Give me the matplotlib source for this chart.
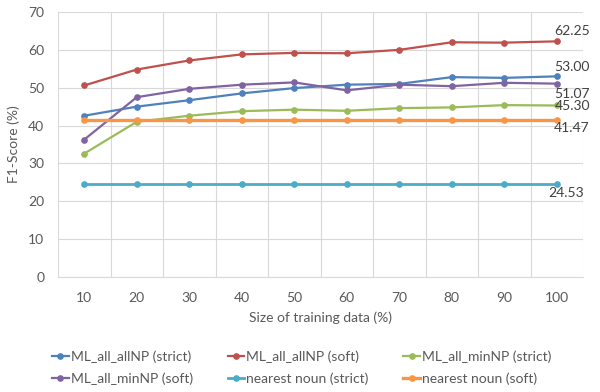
import matplotlib.pyplot as plt
import numpy as np

plt.rcParams['font.family'] = ['Lato', 'DejaVu Sans']

sizes = ['10', '20', '30', '40', '50', '60', '70', '80', '90', '100']
allnp_strict = [42.6, 45.0, 46.7, 48.5, 49.9, 50.8, 51.0, 52.8, 52.6, 53.00]
allnp_soft = [50.6, 54.8, 57.2, 58.8, 59.2, 59.1, 60.0, 62.0, 61.9, 62.25]
minnp_strict = [32.6, 41.0, 42.6, 43.8, 44.2, 43.9, 44.6, 44.8, 45.4, 45.30]
minnp_soft = [36.3, 47.5, 49.7, 50.8, 51.4, 49.3, 50.8, 50.4, 51.3, 51.07]
nearest_strict = [24.53] * 10
nearest_soft = [41.47] * 10

series = [
    ('ML_all_allNP (strict)', allnp_strict, '#4F81BD'),
    ('ML_all_allNP (soft)', allnp_soft, '#C0504D'),
    ('ML_all_minNP (strict)', minnp_strict, '#9BBB59'),
    ('ML_all_minNP (soft)', minnp_soft, '#8064A2'),
    ('nearest noun (strict)', nearest_strict, '#4BACC6'),
    ('nearest noun (soft)', nearest_soft, '#F79646'),
]
widths = [1.6, 1.6, 1.6, 1.6, 2.0, 2.4]

txt = '#595959'
fig = plt.figure(figsize=(6, 3.92), dpi=100)
ax = fig.add_axes([0.0967, 0.2934, 0.875, 0.676])

x = np.arange(len(sizes))
handles = []
for (name, vals, col), w in zip(series, widths):
    h, = ax.plot(x, vals, color=col, lw=w, marker='o', ms=3.8, label=name)
    handles.append(h)

# end-of-line labels, offsets in pixels
lab_off = [(-3, 9), (-3, 10), (-2, -1), (-3, -10), (-8, -9), (-3, -8)]
for (name, vals, col), (dx, dy) in zip(series, lab_off):
    ax.annotate('%.2f' % vals[-1], (x[-1], vals[-1]), xytext=(dx, dy),
                textcoords='offset pixels', ha='left', va='center',
                fontsize=10, color='#404040')

ax.set_xlim(-0.5, len(sizes) - 0.5)
ax.set_ylim(0, 70)
ax.set_yticks(range(0, 71, 10))
ax.set_xticks(x)
ax.set_xticklabels(sizes)
ax.set_xticks(np.arange(-0.5, len(sizes), 1), minor=True)
ax.tick_params(axis='both', which='both', length=0, colors=txt, labelsize=10)
ax.tick_params(axis='x', pad=11)
ax.tick_params(axis='y', pad=10)
ax.grid(axis='y', color='#D9D9D9', lw=0.8)
ax.grid(axis='x', which='minor', color='#D9D9D9', lw=0.8)
ax.set_axisbelow(True)
for s in ['top', 'right', 'left']:
    ax.spines[s].set_visible(False)
ax.spines['bottom'].set_color('#D9D9D9')

ax.set_xlabel('Size of training data (%)', color=txt, fontsize=10, labelpad=5)
ax.set_ylabel('F1-Score (%)', color=txt, fontsize=10, labelpad=6)

# row-major legend order like the original
order = [0, 3, 1, 4, 2, 5]
fig.legend([handles[i] for i in order], [series[i][0] for i in order],
           loc='center left', bbox_to_anchor=(0.0867, 0.0625), ncol=3, frameon=False,
           fontsize=10, labelcolor=txt, handlelength=1.2, handletextpad=0.15,
           columnspacing=2.5, labelspacing=0.65, borderpad=0, borderaxespad=0)

fig.savefig('out.png', dpi=100)
